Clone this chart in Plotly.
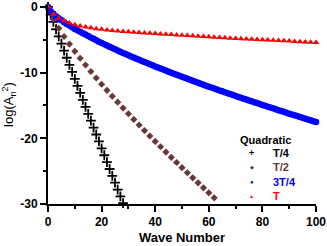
import plotly.graph_objects as go

# ---- data ----
n_t4 = list(range(0, 29))
y_t4 = [0, -1.16, -2.28, -3.39, -4.48, -5.57, -6.65, -7.73, -8.81, -9.88, -10.95,
        -12.02, -13.08, -14.15, -15.21, -16.27, -17.32, -18.38, -19.42, -20.47, -21.53,
        -22.58, -23.62, -24.67, -25.72, -26.76, -27.80, -28.84, -29.88]

n_t2 = list(range(0, 63, 2))
y_t2 = [0, -1.86, -3.24, -4.49, -5.65, -6.75, -7.81, -8.84, -9.83, -10.81, -11.76,
        -12.69, -13.60, -14.50, -15.39, -16.26, -17.12, -17.97, -18.82, -19.65, -20.47,
        -21.28, -22.09, -22.89, -23.68, -24.47, -25.24, -26.01, -26.78, -27.54, -28.30,
        -29.06]

n_3t4 = list(range(0, 101))
y_3t4 = [0, -0.64, -1.05, -1.40, -1.73, -2.03, -2.31, -2.58, -2.84, -3.09, -3.34,
         -3.56, -3.77, -3.99, -4.20, -4.42, -4.64, -4.85, -5.07, -5.28, -5.50,
         -5.69, -5.87, -6.06, -6.24, -6.43, -6.62, -6.80, -6.99, -7.17, -7.36,
         -7.53, -7.70, -7.87, -8.04, -8.21, -8.38, -8.55, -8.72, -8.89, -9.06,
         -9.22, -9.38, -9.53, -9.69, -9.85, -10.01, -10.17, -10.32, -10.48, -10.64,
         -10.79, -10.94, -11.09, -11.24, -11.39, -11.53, -11.68, -11.83, -11.98, -12.13,
         -12.27, -12.41, -12.56, -12.70, -12.84, -12.98, -13.12, -13.27, -13.41, -13.55,
         -13.69, -13.82, -13.96, -14.09, -14.23, -14.37, -14.50, -14.64, -14.77, -14.91,
         -15.04, -15.18, -15.31, -15.44, -15.58, -15.71, -15.84, -15.97, -16.11, -16.24,
         -16.37, -16.50, -16.62, -16.75, -16.88, -17.01, -17.14, -17.26, -17.39, -17.52]

n_t = list(range(0, 101, 2))
y_t = [0, -1.10, -1.70, -2.10, -2.45, -2.70, -2.88, -3.05, -3.18, -3.30, -3.40,
       -3.49, -3.57, -3.65, -3.72, -3.79, -3.85, -3.90, -3.95, -4.00, -4.05,
       -4.10, -4.15, -4.20, -4.25, -4.30, -4.35, -4.40, -4.45, -4.50, -4.55,
       -4.60, -4.65, -4.70, -4.75, -4.80, -4.84, -4.88, -4.92, -4.96, -5.00,
       -5.04, -5.08, -5.12, -5.16, -5.20, -5.24, -5.28, -5.32, -5.36, -5.40]

series_names = ["T/4", "T/2", "3T/4", "T"]
legend_title = "Quadratic"
x_ticks = [0, 20, 40, 60, 80, 100]
y_ticks = [0, -10, -20, -30]

# ---- style ----
C_BLACK = "#000000"
C_BROWN = "#6b3636"
C_BLUE = "#0000ff"
C_RED = "#ff0000"
FONT = "Liberation Sans, Arial, sans-serif"

fig = go.Figure()
fig.add_trace(go.Scatter(x=n_t4, y=y_t4, mode="markers", name=series_names[0],
                         marker=dict(symbol="cross-thin", size=7,
                                     line=dict(color=C_BLACK, width=1.8)),
                         cliponaxis=False, showlegend=False))
fig.add_trace(go.Scatter(x=n_t2, y=y_t2, mode="markers", name=series_names[1],
                         marker=dict(symbol="diamond", size=5.5, color=C_BROWN),
                         cliponaxis=False, showlegend=False))
fig.add_trace(go.Scatter(x=n_3t4, y=y_3t4, mode="markers", name=series_names[2],
                         marker=dict(symbol="circle", size=6.5, color=C_BLUE),
                         cliponaxis=False, showlegend=False))
fig.add_trace(go.Scatter(x=n_t, y=y_t, mode="markers", name=series_names[3],
                         marker=dict(symbol="triangle-up", size=6, color=C_RED),
                         cliponaxis=False, showlegend=False))

# manual legend (compact rows like the reference)
sym = ["+", "\u25c6", "\u25cf", "\u25b2"]
cols = [C_BLACK, C_BROWN, C_BLUE, C_RED]
sym_size = [9, 5, 6, 5]
row_y = [0.256, 0.186, 0.111, 0.040]
fig.add_annotation(x=0.81, y=0.322, xref="paper", yref="paper", text="<b>%s</b>" % legend_title,
                   showarrow=False, xanchor="center", yanchor="middle",
                   font=dict(family=FONT, size=11, color="#000"))
for i in range(4):
    fig.add_annotation(x=0.760, y=row_y[i], xref="paper", yref="paper",
                       text="<b>%s</b>" % sym[i], showarrow=False,
                       xanchor="center", yanchor="middle",
                       font=dict(family=FONT, size=sym_size[i], color=cols[i]))
    fig.add_annotation(x=0.831, y=row_y[i], xref="paper", yref="paper",
                       text="<b>%s</b>" % series_names[i], showarrow=False,
                       xanchor="left", yanchor="middle",
                       font=dict(family=FONT, size=11, color=cols[i]))

axis_common = dict(showgrid=False, zeroline=False, showline=True, linewidth=2,
                   linecolor="#000", ticks="outside", ticklen=6, tickwidth=1.5,
                   tickcolor="#000", automargin=False,
                   tickfont=dict(family=FONT, size=12, color="#000", weight="bold"))

fig.update_xaxes(range=[0, 100], tickvals=x_ticks, ticktext=[str(v) for v in x_ticks],
                 minor=dict(ticks="outside", ticklen=3, tickwidth=1.5, dtick=10,
                            tickcolor="#000", tick0=0),
                 title=dict(text="<b>Wave Number</b>", standoff=4,
                            font=dict(family=FONT, size=13, color="#000")),
                 **axis_common)
fig.update_yaxes(range=[-30, 0.3], tickvals=y_ticks, ticktext=[str(v) for v in y_ticks],
                 minor=dict(ticks="outside", ticklen=3, tickwidth=1.5, dtick=5,
                            tickcolor="#000", tick0=0),
                 title=dict(text="log(A<sub>n</sub><sup>2</sup>)", standoff=5,
                            font=dict(family=FONT, size=13, color="#000")),
                 **axis_common)

fig.update_layout(width=327, height=246, margin=dict(l=48, r=11, t=5, b=42),
                  plot_bgcolor="white", paper_bgcolor="white", showlegend=False)

fig.write_html("out.html", config={"displayModeBar": False},
               post_script="document.body.style.margin='0';document.body.style.padding='0';")
